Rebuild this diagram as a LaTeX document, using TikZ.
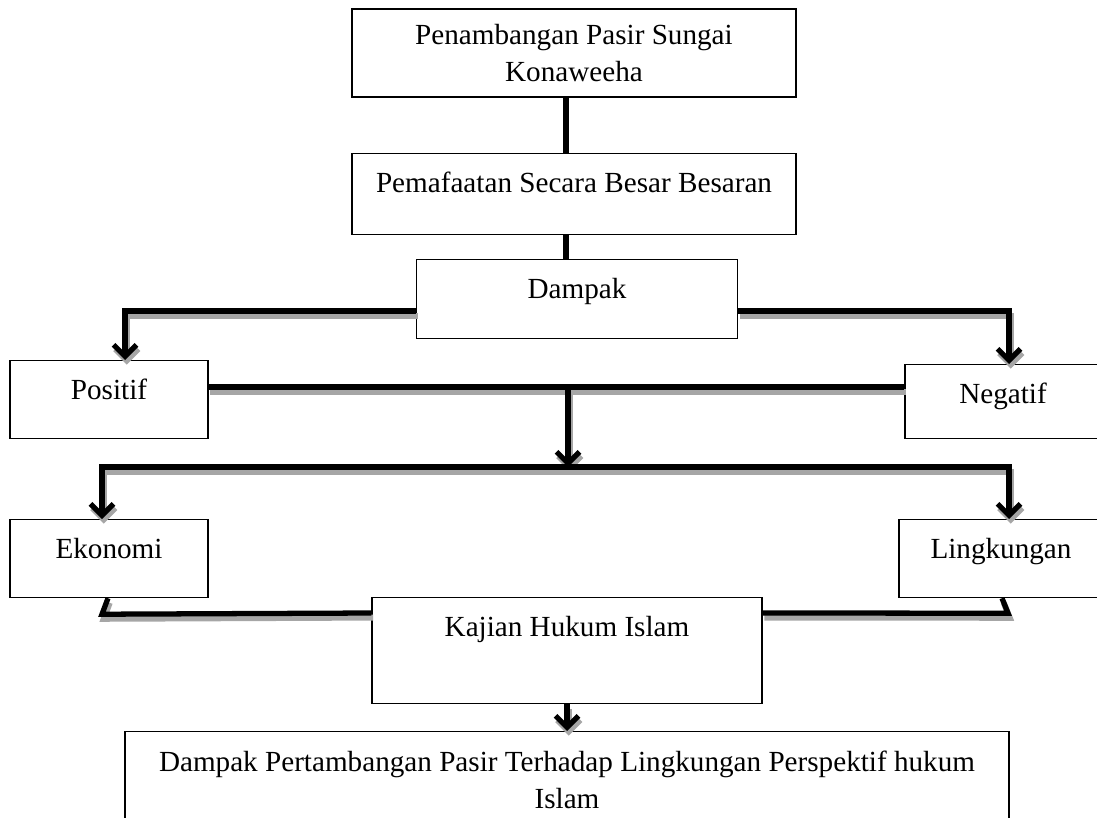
\documentclass[tikz,border=0pt]{standalone}
\usepackage{fontspec}
\setmainfont{Liberation Serif}
\usetikzlibrary{arrows.meta}

\tikzset{
  frame/.style={draw, line width=0.7pt, fill=white, font=\fontsize{16.6}{21}\selectfont},
  box/.style={frame, anchor=north, inner ysep=0pt, text height=0.78cm},
  stem/.style={line width=3pt},
  link/.style={stem, preaction={draw=black!35, line width=3.4pt, transform canvas={shift={(1pt,-2.6pt)}}}},
  arrowhead/.style={-{Straight Barb[length=6.5pt,width=13pt]}}
}

\begin{document}
\begin{tikzpicture}[x=0.02cm, y=-0.02cm]

  \clip (0,0) rectangle (1097,817);

  % boxes
  \node[frame, align=center, minimum width=8.88cm, minimum height=1.76cm] (pen) at (574,53) {Penambangan Pasir Sungai\\Konaweeha};
  \node[box, minimum width=8.88cm, text depth=0.84cm] (pem) at (574,153) {Pemafaatan Secara Besar Besaran};
  \node[box, minimum width=6.42cm, text depth=0.80cm] (dam) at (577,259) {Dampak};

  \node[box, minimum width=3.96cm, text depth=0.78cm] (pos) at (109,360) {Positif};
  \node[box, minimum width=3.92cm, text depth=0.70cm] (neg) at (1003,364) {Negatif};

  \node[box, minimum width=3.96cm, text depth=0.78cm] (eko) at (109,519) {Ekonomi};
  \node[box, minimum width=4.08cm, text depth=0.78cm] (lin) at (1001,519) {Lingkungan};

  \node[box, minimum width=7.8cm, text depth=1.34cm] (kaj) at (567,597) {Kajian Hukum Islam};
  \node[frame, anchor=north, align=center, minimum width=17.68cm, minimum height=1.92cm] (bot) at (567,731)
    {Dampak Pertambangan Pasir Terhadap Lingkungan Perspektif hukum\\Islam};

  % rails
  \coordinate (rail1) at (0,311);
  \coordinate (rail2) at (0,387);
  \coordinate (mid) at (568,387);
  \coordinate (split) at (568,467);
  \coordinate (rail4) at (0,613);
  \coordinate (axis) at (567,0);

  % connectors
  \draw[stem] (pen.south -| 566,0) -- (pem.north -| 566,0);
  \draw[stem] (pem.south -| 566,0) -- (dam.north -| 566,0);

  \draw[link, arrowhead] (dam.west |- rail1) -| (pos.north -| 125,0);
  \draw[link, arrowhead] (dam.east |- rail1) -| (neg.north -| 1009,0);

  \draw[link] (pos.east |- rail2) -- (neg.west |- rail2);
  \draw[link, arrowhead] (mid) -- (split);
  \draw[link, {Straight Barb[length=6.5pt,width=13pt]}-{Straight Barb[length=6.5pt,width=13pt]}]
    (eko.north -| 102,0) |- (split) -| (lin.north -| 1009,0);

  \draw[link] (eko.south -| 108,0) -- ++(-6,16) -- (kaj.west |- rail4);
  \draw[link] (lin.south -| 1002,0) -- ++(6,15) -- (kaj.east |- rail4);

  \draw[link, arrowhead] (kaj.south -| axis) -- (bot.north -| axis);

\end{tikzpicture}
\end{document}
